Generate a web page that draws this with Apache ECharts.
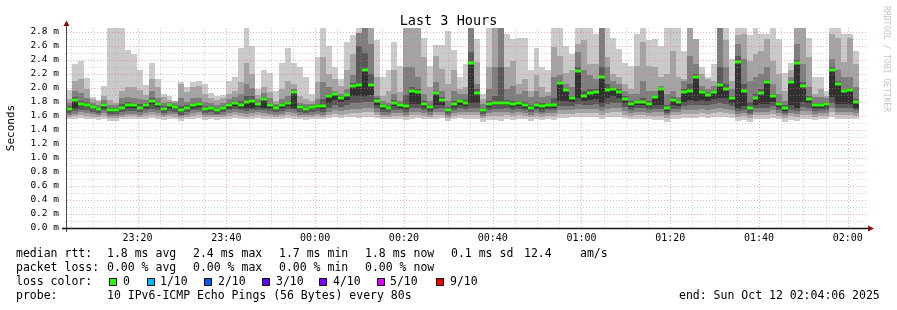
<!DOCTYPE html>
<html><head><meta charset="utf-8">
<script src="https://cdn.jsdelivr.net/npm/echarts/dist/echarts.min.js"></script>
<style>html,body{margin:0;padding:0;background:#fff;}#c{width:897px;height:310px;}</style>
</head><body><div id="c"></div>
<script>
// time axis in seconds of day (Oct 11), continuing past midnight
const START = 83046;      // 23:04:06
const END = 93846;        // 02:04:06
const FIRST_STEP = 83032; // first 80 s RRD step
const STEP = 80;
const Y_MAX = 2.857;
const xLabelTimes = [84000,85200,86400,87600,88800,90000,91200,92400,93600];
const xLabels = ['23:20','23:40','00:00','00:20','00:40','01:00','01:20','01:40','02:00'];
const yTickValues = [0,0.2,0.4,0.6,0.8,1.0,1.2,1.4,1.6,1.8,2.0,2.2,2.4,2.6,2.8];

// sorted ping rtts per step (ms); med = median (ping 6)
const med = [1.70,1.83,1.77,1.76,1.73,1.70,1.76,1.69,1.69,1.72,
1.75,1.75,1.72,1.76,1.82,1.77,1.70,1.75,1.73,1.68,
1.71,1.76,1.77,1.70,1.71,1.69,1.71,1.76,1.79,1.76,
1.80,1.82,1.77,1.84,1.75,1.71,1.75,1.78,1.94,1.73,
1.70,1.73,1.74,1.74,1.88,1.91,1.86,1.90,2.03,2.04,
2.26,2.04,1.82,1.74,1.71,1.79,1.76,1.74,1.96,1.94,
1.77,1.73,1.93,1.83,1.69,1.77,1.81,1.79,2.36,1.93,
1.69,1.77,1.79,1.79,1.79,1.77,1.78,1.76,1.71,1.76,
1.74,1.76,1.76,2.07,1.97,1.85,2.24,1.88,1.93,1.94,
2.15,1.97,1.99,1.94,1.84,1.77,1.80,1.80,1.77,1.87,
1.98,1.71,1.83,1.80,1.94,1.96,2.15,1.94,1.90,1.94,
2.04,1.99,1.85,2.37,1.96,1.72,1.86,1.93,2.08,1.88,
1.77,1.71,2.08,2.36,2.03,1.84,1.75,1.76,1.77,2.26,
2.06,1.95,1.97,1.80,null];
const p10 = [1.97,2.34,2.39,2.14,1.87,1.83,2.03,2.9,2.9,2.9,
2.54,2.49,2.26,2.04,2.36,2.13,1.91,1.88,1.82,2.08,
2.01,2.08,2.10,2.05,1.93,1.89,1.90,2.10,2.16,2.57,
2.9,2.60,1.98,2.26,2.21,1.96,2.35,2.57,2.35,2.30,
2.15,1.91,2.44,2.9,2.60,2.30,2.13,2.65,2.76,2.9,
2.9,2.9,2.69,2.16,2.25,2.65,2.32,2.9,2.9,2.9,
2.71,2.32,2.61,2.61,2.81,2.54,2.15,2.34,2.9,2.70,
1.92,2.9,2.9,2.9,2.77,2.70,2.72,2.71,2.25,2.57,
2.30,2.26,2.9,2.9,2.60,2.49,2.9,2.9,2.9,2.77,
2.9,2.9,2.72,2.56,2.35,2.32,2.77,2.9,2.69,2.70,
2.60,2.9,2.9,2.9,2.53,2.9,2.70,2.30,2.15,2.34,
2.9,2.9,2.41,2.9,2.9,2.75,2.9,2.77,2.77,2.9,
2.70,2.22,2.35,2.9,2.9,2.72,2.15,2.15,1.95,2.9,
2.9,2.77,2.77,2.53,null];
const p9 = [1.84,2.10,2.13,1.99,1.84,1.81,1.89,1.83,1.78,1.96,
2.01,2.01,1.97,1.90,2.13,2.01,1.87,1.83,1.81,2.06,
1.94,2.02,2.03,1.91,1.86,1.83,1.86,1.92,1.96,2.09,
2.35,2.20,1.90,2.01,1.94,1.82,1.99,2.10,2.06,1.89,
1.84,1.82,2.08,2.44,2.20,2.13,2.03,2.25,2.49,2.79,
2.9,2.9,2.15,1.89,1.96,2.25,1.94,2.9,2.9,2.9,
2.44,2.01,2.46,2.27,2.06,2.25,1.99,2.01,2.9,2.37,
1.84,2.30,2.9,2.9,2.30,2.39,2.06,2.13,1.96,2.18,
2.01,1.94,2.58,2.46,2.22,2.25,2.63,2.68,2.34,2.34,
2.9,2.44,2.20,2.15,2.06,1.99,2.32,2.65,2.32,2.30,
2.15,2.20,2.53,2.15,2.13,2.9,2.70,2.20,2.13,2.10,
2.9,2.68,2.10,2.75,2.77,2.39,2.49,2.53,2.70,2.39,
2.20,1.96,2.25,2.9,2.9,2.44,1.91,1.99,1.89,2.77,
2.72,2.37,2.72,2.34,null];
const p8 = [1.78,1.96,1.93,1.86,1.79,1.76,1.83,1.76,1.75,1.85,
1.87,1.86,1.84,1.83,1.95,1.86,1.79,1.80,1.78,1.86,
1.80,1.85,1.86,1.80,1.79,1.76,1.79,1.84,1.87,1.92,
2.05,2.00,1.84,1.93,1.86,1.77,1.84,1.89,1.99,1.79,
1.77,1.77,1.84,2.08,2.01,1.96,1.91,1.99,2.18,2.79,
2.9,2.63,1.89,1.82,1.79,1.91,1.82,2.30,2.30,2.15,
1.91,1.82,2.08,1.96,1.82,1.96,1.91,1.91,2.9,2.06,
1.77,1.99,2.30,2.9,1.99,2.03,1.91,1.96,1.87,1.96,
1.87,1.89,2.15,2.18,2.06,2.01,2.51,2.25,2.18,2.13,
2.9,2.30,2.10,2.06,1.96,1.91,1.91,2.10,1.96,1.96,
2.03,1.91,1.96,1.87,2.10,2.46,2.34,2.03,1.99,2.03,
2.9,2.30,1.99,2.63,2.41,2.10,2.15,2.20,2.30,2.06,
1.91,1.82,2.15,2.63,2.34,2.01,1.87,1.87,1.85,2.41,
2.25,2.15,2.15,2.01,null];
const p7 = [1.74,1.87,1.82,1.80,1.76,1.73,1.79,1.72,1.72,1.77,
1.80,1.79,1.77,1.79,1.86,1.80,1.74,1.77,1.75,1.74,
1.75,1.79,1.80,1.74,1.74,1.72,1.74,1.79,1.82,1.81,
1.88,1.88,1.80,1.87,1.79,1.74,1.78,1.82,1.97,1.75,
1.73,1.75,1.77,1.84,1.92,1.93,1.88,1.92,2.07,2.60,
2.50,2.20,1.85,1.77,1.74,1.83,1.78,1.90,2.02,1.99,
1.81,1.76,1.96,1.87,1.73,1.82,1.84,1.83,2.51,1.98,
1.72,1.81,1.88,2.30,1.83,1.82,1.81,1.80,1.75,1.80,
1.78,1.79,1.85,2.10,2.00,1.89,2.30,1.96,1.98,1.98,
2.30,2.05,2.02,1.98,1.88,1.81,1.83,1.86,1.82,1.90,
2.00,1.76,1.87,1.83,1.98,2.05,2.20,1.97,1.93,1.97,
2.30,2.05,1.89,2.45,2.05,1.80,1.92,1.98,2.12,1.92,
1.80,1.75,2.12,2.40,2.08,1.88,1.78,1.79,1.80,2.30,
2.10,1.99,2.00,1.84,null];
const p5 = [1.67,1.72,1.74,1.73,1.70,1.67,1.72,1.66,1.66,1.69,
1.71,1.71,1.69,1.72,1.77,1.73,1.67,1.71,1.70,1.65,
1.68,1.72,1.73,1.67,1.68,1.66,1.68,1.72,1.74,1.72,
1.71,1.72,1.73,1.72,1.71,1.68,1.71,1.74,1.72,1.70,
1.67,1.70,1.71,1.70,1.79,1.83,1.80,1.83,1.88,1.89,
1.89,1.90,1.76,1.70,1.68,1.74,1.72,1.70,1.77,1.77,
1.73,1.69,1.75,1.76,1.66,1.73,1.76,1.74,1.79,1.78,
1.66,1.73,1.75,1.75,1.75,1.73,1.74,1.72,1.68,1.72,
1.70,1.72,1.72,1.81,1.81,1.80,1.86,1.82,1.83,1.84,
1.79,1.85,1.88,1.86,1.78,1.73,1.75,1.75,1.73,1.75,
1.75,1.67,1.75,1.74,1.80,1.83,1.82,1.83,1.82,1.84,
1.86,1.85,1.79,1.72,1.74,1.68,1.76,1.77,1.77,1.80,
1.73,1.67,1.75,1.72,1.80,1.78,1.71,1.72,1.73,1.87,
1.77,1.77,1.77,1.72,null];
const p4 = [1.64,1.67,1.69,1.68,1.66,1.64,1.68,1.63,1.63,1.65,
1.67,1.67,1.65,1.68,1.70,1.68,1.64,1.67,1.66,1.62,
1.65,1.68,1.69,1.64,1.65,1.63,1.65,1.68,1.70,1.68,
1.67,1.68,1.69,1.68,1.67,1.65,1.67,1.70,1.68,1.66,
1.64,1.66,1.67,1.66,1.72,1.75,1.73,1.75,1.78,1.79,
1.80,1.80,1.71,1.66,1.65,1.69,1.68,1.66,1.72,1.72,
1.69,1.65,1.70,1.71,1.63,1.69,1.71,1.70,1.72,1.72,
1.63,1.69,1.70,1.70,1.71,1.69,1.70,1.68,1.65,1.68,
1.66,1.68,1.68,1.74,1.74,1.74,1.77,1.76,1.76,1.77,
1.73,1.77,1.79,1.78,1.73,1.69,1.71,1.71,1.69,1.70,
1.70,1.64,1.70,1.70,1.74,1.76,1.75,1.76,1.75,1.77,
1.78,1.77,1.74,1.67,1.69,1.64,1.71,1.71,1.71,1.74,
1.69,1.64,1.69,1.67,1.73,1.72,1.67,1.68,1.69,1.78,
1.71,1.71,1.71,1.68,null];
const p3 = [1.62,1.63,1.65,1.64,1.63,1.61,1.64,1.60,1.60,1.62,
1.63,1.63,1.62,1.64,1.65,1.64,1.61,1.63,1.63,1.60,
1.62,1.64,1.65,1.61,1.62,1.61,1.62,1.64,1.65,1.64,
1.63,1.64,1.65,1.64,1.63,1.62,1.63,1.65,1.64,1.62,
1.61,1.62,1.63,1.62,1.66,1.68,1.67,1.68,1.70,1.70,
1.71,1.71,1.66,1.62,1.62,1.64,1.64,1.62,1.66,1.66,
1.64,1.62,1.65,1.66,1.60,1.64,1.66,1.65,1.66,1.66,
1.60,1.64,1.65,1.65,1.66,1.64,1.65,1.64,1.62,1.64,
1.63,1.64,1.64,1.68,1.68,1.68,1.70,1.70,1.70,1.70,
1.67,1.70,1.71,1.71,1.67,1.64,1.66,1.66,1.64,1.65,
1.65,1.61,1.65,1.65,1.68,1.69,1.69,1.70,1.69,1.70,
1.71,1.70,1.68,1.63,1.64,1.61,1.66,1.66,1.66,1.68,
1.64,1.61,1.64,1.63,1.67,1.67,1.63,1.64,1.64,1.71,
1.66,1.66,1.66,1.64,null];
const p2 = [1.59,1.60,1.61,1.60,1.59,1.58,1.60,1.57,1.57,1.59,
1.60,1.60,1.59,1.60,1.61,1.60,1.58,1.60,1.59,1.57,
1.59,1.60,1.61,1.58,1.59,1.58,1.59,1.60,1.61,1.60,
1.59,1.60,1.61,1.60,1.60,1.59,1.60,1.61,1.60,1.59,
1.58,1.59,1.60,1.59,1.62,1.63,1.62,1.63,1.64,1.64,
1.65,1.65,1.62,1.59,1.59,1.60,1.60,1.59,1.62,1.62,
1.60,1.59,1.61,1.62,1.57,1.60,1.62,1.61,1.61,1.61,
1.57,1.60,1.60,1.60,1.61,1.60,1.61,1.60,1.58,1.60,
1.59,1.60,1.60,1.63,1.63,1.63,1.64,1.64,1.64,1.64,
1.62,1.64,1.65,1.65,1.62,1.60,1.61,1.61,1.60,1.60,
1.60,1.57,1.61,1.61,1.63,1.63,1.63,1.64,1.63,1.64,
1.65,1.64,1.63,1.59,1.60,1.57,1.61,1.61,1.61,1.63,
1.60,1.57,1.60,1.59,1.62,1.62,1.59,1.60,1.60,1.65,
1.61,1.61,1.61,1.60,null];
const p1 = [1.55,1.56,1.57,1.56,1.55,1.54,1.56,1.53,1.53,1.55,
1.56,1.56,1.55,1.56,1.57,1.56,1.54,1.56,1.55,1.53,
1.55,1.56,1.57,1.54,1.55,1.54,1.55,1.56,1.57,1.56,
1.55,1.56,1.57,1.56,1.56,1.55,1.56,1.57,1.56,1.55,
1.54,1.55,1.56,1.55,1.57,1.58,1.57,1.58,1.58,1.57,
1.58,1.58,1.57,1.55,1.55,1.56,1.56,1.54,1.56,1.57,
1.55,1.55,1.56,1.57,1.53,1.55,1.57,1.56,1.55,1.55,
1.52,1.54,1.54,1.53,1.55,1.54,1.55,1.55,1.53,1.55,
1.54,1.55,1.54,1.57,1.57,1.58,1.58,1.58,1.58,1.58,
1.55,1.58,1.59,1.59,1.57,1.55,1.55,1.55,1.55,1.54,
1.54,1.52,1.55,1.55,1.57,1.57,1.57,1.58,1.57,1.58,
1.58,1.58,1.57,1.53,1.54,1.52,1.55,1.55,1.55,1.57,
1.55,1.52,1.54,1.53,1.56,1.56,1.54,1.55,1.55,1.59,
1.55,1.55,1.55,1.55,null];

const lossColors = ['#26ff00','#00b8ff','#0059ff','#5e00ff','#7e00ff','#dd00ff','#ff0000'];
const lossLabels = ['0','1/10','2/10','3/10','4/10','5/10','9/10'];

const FONT = '"DejaVu Sans Mono", monospace';
const chart = echarts.init(document.getElementById('c'), null, {renderer:'canvas'});

function bandData(lo, hi){
  const out = [];
  for (let k = 0; k < med.length; k++){
    if (lo[k] == null || hi[k] == null) continue;
    out.push([FIRST_STEP + k*STEP, FIRST_STEP + (k+1)*STEP, lo[k], hi[k]]);
  }
  return out;
}
function csRect(params){
  const c = params.coordSys;
  return {x:c.x, y:c.y, width:c.width, height:c.height};
}
function bandRender(color){
  return function(params, api){
    const a = api.coord([api.value(0), api.value(3)]);
    const b = api.coord([api.value(1), api.value(2)]);
    const x0 = Math.round(a[0]), x1 = Math.round(b[0]);
    const y0 = Math.round(a[1]), y1 = Math.round(b[1]);
    const shape = echarts.graphic.clipRectByRect({x:x0, y:y0, width:x1-x0, height:y1-y0}, csRect(params));
    if (!shape) return;
    return {type:'rect', shape:shape, style:{fill:color}};
  };
}
function medRender(params, api){
  const a = api.coord([api.value(0), api.value(2)]);
  const b = api.coord([api.value(1), api.value(2)]);
  const x0 = Math.round(a[0]), x1 = Math.round(b[0]);
  const yc = Math.round(a[1]);
  const shape = echarts.graphic.clipRectByRect({x:x0, y:yc-1.5, width:x1-x0, height:3}, csRect(params));
  if (!shape) return;
  return {type:'rect', shape:shape, style:{fill:lossColors[0]}};
}

// grid line values: kind 0 = minor horizontal, 1 = major horizontal, 2 = minor vertical, 3 = major vertical
const gridData = [];
for (let i = 1; i <= 28; i++) gridData.push([i % 2 === 0 ? 1 : 0, i/10]);
for (let t = 83100; t < END; t += 300) gridData.push([xLabelTimes.indexOf(t) >= 0 ? 3 : 2, t]);
function gridRender(params, api){
  const kind = api.value(0), v = api.value(1);
  const c = params.coordSys;
  let shape;
  if (kind < 2){
    const y = Math.round(api.coord([START, v])[1]) + 0.5;
    shape = {x1:c.x, y1:y, x2:c.x + c.width, y2:y};
  } else {
    const x = Math.round(api.coord([v, 0])[0]) + 0.5;
    shape = {x1:x, y1:c.y, x2:x, y2:c.y + c.height};
  }
  const major = kind % 2 === 1;
  return {type:'line', shape:shape, style:{stroke: major ? 'rgba(240,100,100,0.55)' : 'rgba(160,160,160,0.45)', lineWidth:1, lineDash:[1,2]}};
}

const layers = [[p1,p10,'#cacaca'],[p2,p9,'#a4a4a4'],[p3,p8,'#7e7e7e'],[p4,p7,'#585858'],[p5,med,'#323232']];
const series = layers.map((L, i) => ({
  type:'custom', renderItem: bandRender(L[2]), data: bandData(L[0], L[1]),
  encode:{x:[0,1], y:[2,3]}, z: 2 + i, silent:true, animation:false
}));
series.push({type:'custom', renderItem: medRender, data: bandData(med, med), encode:{x:[0,1], y:[2,3]}, z: 8, silent:true, animation:false});
series.push({type:'custom', renderItem: gridRender, data: gridData, z: 9, silent:true, animation:false});

function txt(x, y, s, extra){
  return Object.assign({type:'text', x:x, y:y, silent:true, style:{text:s, font:'11.5px ' + FONT, fill:'#000', align:'left', verticalAlign:'middle'}}, extra || {});
}
const graphics = [];
const line1 = [[16,'median rtt:'],[107,'1.8 ms avg'],[193,'2.4 ms max'],[279,'1.7 ms min'],[365,'1.8 ms now'],[451,'0.1 ms sd'],[524,'12.4'],[580,'am/s']];
const line2 = [[16,'packet loss:'],[107,'0.00 % avg'],[193,'0.00 % max'],[279,'0.00 % min'],[365,'0.00 % now']];
line1.forEach(e => graphics.push(txt(e[0], 254.5, e[1])));
line2.forEach(e => graphics.push(txt(e[0], 268.5, e[1])));
graphics.push(txt(16, 282.5, 'loss color:'));
const boxX = [109,147,204,262,319,377,436];
const labX = [123,160,218,276,333,390,450];
lossLabels.forEach((l, i) => {
  graphics.push({type:'rect', silent:true, shape:{x:boxX[i]+0.5, y:278.5, width:7, height:7}, style:{fill:lossColors[i], stroke:'#000', lineWidth:1}});
  graphics.push(txt(labX[i], 282.5, l));
});
graphics.push(txt(16, 296, 'probe:'));
graphics.push(txt(107, 296, '10 IPv6-ICMP Echo Pings (56 Bytes) every 80s'));
graphics.push(txt(679, 296, 'end: Sun Oct 12 02:04:06 2025'));
graphics.push({type:'text', x:886, y:59, rotation:-Math.PI/2, silent:true, style:{text:'RRDTOOL / TOBI OETIKER', font:'8px ' + FONT, fill:'#c4c4c4', align:'center', verticalAlign:'middle'}});
// axis lines and arrows
graphics.push({type:'line', silent:true, z:20, shape:{x1:66.5, y1:232, x2:66.5, y2:24}, style:{stroke:'#4a4a4a', lineWidth:1}});
graphics.push({type:'line', silent:true, z:20, shape:{x1:62, y1:228.5, x2:869, y2:228.5}, style:{stroke:'#111', lineWidth:1.5}});
graphics.push({type:'polygon', silent:true, z:20, shape:{points:[[63.5,26],[69.5,26],[66.5,20.5]]}, style:{fill:'#8b1010'}});
graphics.push({type:'polygon', silent:true, z:20, shape:{points:[[868,225.5],[868,231.5],[874,228.5]]}, style:{fill:'#8b1010'}});

chart.setOption({
  animation:false,
  backgroundColor:'#ffffff',
  title:{text:'Last 3 Hours', left:'center', top:9, textStyle:{fontFamily:FONT, fontSize:13.5, fontWeight:'normal', color:'#000'}},
  grid:{left:67, right:31, top:28, bottom:82, containLabel:false, outerBoundsMode:'none'},
  xAxis:{type:'value', min:START, max:END,
    axisLine:{show:false}, axisTick:{show:false}, splitLine:{show:false},
    axisLabel:{customValues:xLabelTimes, margin:5, fontFamily:FONT, fontSize:10, color:'#000',
      formatter:(v) => { const i = xLabelTimes.indexOf(v); return i >= 0 ? xLabels[i] : ''; }}},
  yAxis:{type:'value', min:0, max:Y_MAX, interval:0.2,
    name:'Seconds', nameLocation:'middle', nameRotate:90, nameGap:50,
    nameTextStyle:{fontFamily:FONT, fontSize:11, color:'#000'},
    axisLine:{show:false}, axisTick:{show:false}, splitLine:{show:false},
    axisLabel:{showMaxLabel:false, margin:8, fontFamily:FONT, fontSize:9.5, color:'#000',
      formatter:(v) => { const m = yTickValues.find(t => Math.abs(t - v) < 1e-6); return m === undefined ? '' : m.toFixed(1) + ' m'; }}},
  series: series,
  graphic: graphics
});
</script>
</body></html>
